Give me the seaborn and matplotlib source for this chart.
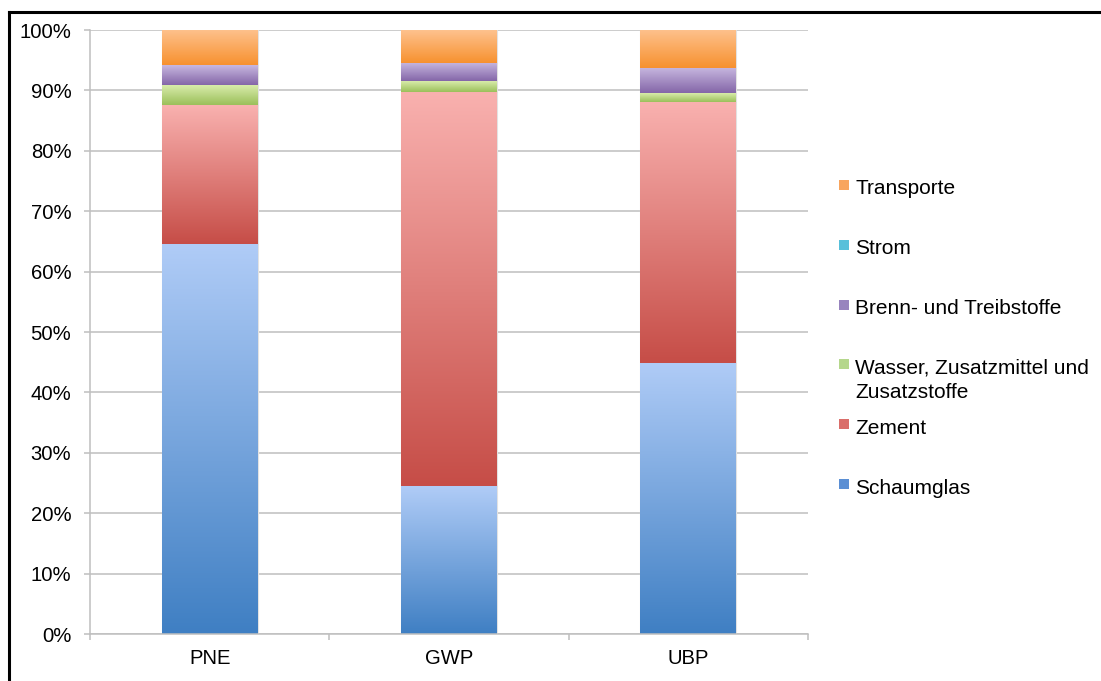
import numpy as np
import pandas as pd
import matplotlib
matplotlib.use("Agg")
import matplotlib.pyplot as plt
from matplotlib.colors import to_rgb
from matplotlib.lines import Line2D
from matplotlib.patches import Rectangle
from matplotlib.ticker import FixedLocator, FuncFormatter
import seaborn as sns

# ---- data (share of each contribution in %) ----
categories = ["PNE", "GWP", "UBP"]
schaumglas = [64.6, 24.5, 44.9]
zement = [23.0, 65.3, 43.2]
wasser = [3.3, 1.8, 1.4]
brenn = [3.3, 3.0, 4.2]
strom = [0.0, 0.0, 0.0]
transporte = [5.8, 5.4, 6.3]

series_names = ["Schaumglas", "Zement", "Wasser, Zusatzmittel und Zusatzstoffe",
                "Brenn- und Treibstoffe", "Strom", "Transporte"]
series_values = [schaumglas, zement, wasser, brenn, strom, transporte]

# gradient (top colour, bottom colour) and legend swatch colour per series
grad_top = ["#B0CCF7", "#F9B1AF", "#D8ECAA", "#C8B8E0", "#9EDCEC", "#FEC28E"]
grad_bot = ["#3F7FC3", "#C64D47", "#9BBF5A", "#8466A8", "#3BA9C8", "#F7912F"]
swatch = ["#5B8FD4", "#DA6E6A", "#B5D78C", "#9884BE", "#58C0DA", "#F8A55E"]

sns.set_theme(style="white")
plt.rcParams["font.family"] = ["Liberation Sans", "DejaVu Sans"]

W, H = 1101, 681
fig = plt.figure(figsize=(W / 100, H / 100), dpi=100)
fig.patch.set_facecolor("white")
ax = fig.add_axes([90 / W, 47 / H, 718 / W, 604 / H])

df = pd.DataFrame({n: v for n, v in zip(series_names, series_values)}, index=categories)
pct = df.div(df.sum(axis=1), axis=0) * 100


def gradient_fill(ax, patch, top, bot):
    x0, y0 = patch.get_x(), patch.get_y()
    w, h = patch.get_width(), patch.get_height()
    if h <= 0:
        return
    t = np.linspace(0, 1, 256)[:, None, None]
    c0 = np.array(to_rgb(bot))[None, None, :]
    c1 = np.array(to_rgb(top))[None, None, :]
    img = c0 + (c1 - c0) * t
    im = ax.imshow(img, extent=(x0, x0 + w, y0, y0 + h), origin="lower",
                   aspect="auto", interpolation="bilinear", zorder=2.5)
    im.set_clip_path(patch)


bottom = np.zeros(len(categories))
for i, name in enumerate(series_names):
    vals = pct[name].values
    n_before = len(ax.patches)
    sns.barplot(x=categories, y=vals, bottom=bottom.copy(), width=0.4,
                color=swatch[i], errorbar=None, ax=ax, zorder=2,
                edgecolor="#E2E2E2", linewidth=0.8)
    for patch in ax.patches[n_before:]:
        gradient_fill(ax, patch, grad_top[i], grad_bot[i])
    bottom += vals

ax.set_xlim(-0.5, 2.5)
ax.set_ylim(0, 100)
ax.set_xlabel("")
ax.set_ylabel("")

# grid and spines
grid_c = "#BFBFBF"
ax.yaxis.grid(True, color=grid_c, linewidth=1.1)
ax.xaxis.grid(False)
ax.set_axisbelow(True)
for s in ["top", "right"]:
    ax.spines[s].set_visible(False)
for s in ["left", "bottom"]:
    ax.spines[s].set_visible(True)
    ax.spines[s].set_color(grid_c)
    ax.spines[s].set_linewidth(1.1)

# y axis ticks
ax.yaxis.set_major_locator(FixedLocator(np.arange(0, 101, 10)))
ax.yaxis.set_major_formatter(FuncFormatter(lambda v, p: f"{v:.0f}%"))
ax.tick_params(axis="y", left=True, length=4, width=1.1, color=grid_c,
               pad=9.5, labelsize=14.6, labelcolor="black")

# x axis: labels at bar centres, tick marks at category boundaries
ax.set_xticks(range(len(categories)))
ax.set_xticklabels(categories)
ax.xaxis.set_minor_locator(FixedLocator([-0.5, 0.5, 1.5, 2.5]))
ax.tick_params(axis="x", which="major", bottom=True, length=0, pad=11,
               labelsize=14.6, labelcolor="black")
ax.tick_params(axis="x", which="minor", bottom=True, length=4.5, width=1.1,
               color=grid_c)

# legend on the right, top entry = top of the stack
def px(x, y):
    return x / W, 1 - y / H

legend_rows = [
    ("Transporte", [187], 5),
    ("Strom", [247], 4),
    ("Brenn- und Treibstoffe", [307], 3),
    ("Wasser, Zusatzmittel und|Zusatzstoffe", [366, 390], 2),
    ("Zement", [426], 1),
    ("Schaumglas", [486], 0),
]
for label, ys, idx in legend_rows:
    lines = label.split("|")
    sx, sy = px(839, ys[0] + 2.5)
    fig.add_artist(Rectangle((sx, sy), 10 / W, 10 / H, transform=fig.transFigure,
                             facecolor=swatch[idx], edgecolor="none"))
    for line, yc in zip(lines, ys):
        tx, ty = px(855, yc + 7.5)
        fig.text(tx, ty, line, fontsize=15, color="black", va="baseline", ha="left")

# frame lines along the left and top edges
fig.add_artist(Line2D([8.5 / W, 8.5 / W], [0, 1 - 11.5 / H], transform=fig.transFigure,
                      color="black", linewidth=2.2, solid_capstyle="projecting"))
fig.add_artist(Line2D([8.5 / W, 1], [1 - 11.5 / H, 1 - 11.5 / H], transform=fig.transFigure,
                      color="black", linewidth=2.2, solid_capstyle="projecting"))

fig.savefig("out.png", dpi=100, facecolor="white")
